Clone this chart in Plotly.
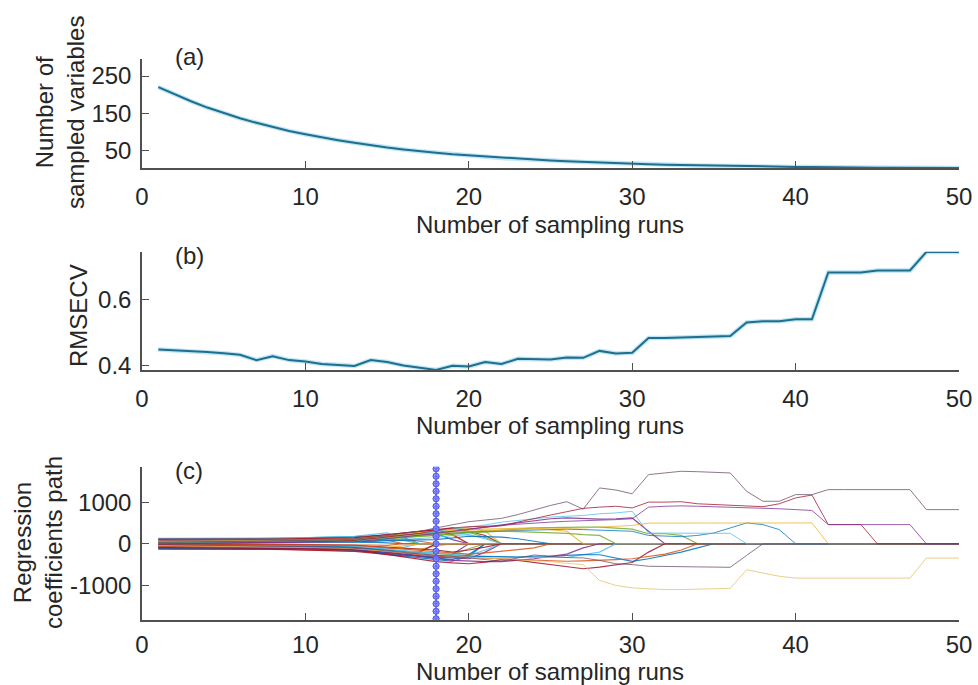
import plotly.graph_objects as go

# ---------------- data ----------------
runs = list(range(1, 51))

n_vars = [220, 200, 182, 165, 150, 136, 124, 112, 102, 93, 84, 77, 70, 63, 57, 52, 47, 43, 39, 36,
          32, 29, 27, 24, 22, 20, 18, 17, 15, 14, 12, 11, 10, 9, 8, 8, 7, 6, 6, 5,
          5, 4, 4, 3, 3, 3, 3, 2, 2, 2]

rmsecv = [0.448, 0.446, 0.444, 0.441, 0.437, 0.432, 0.416, 0.428, 0.416, 0.412,
          0.404, 0.402, 0.398, 0.416, 0.410, 0.400, 0.394, 0.386, 0.399, 0.397,
          0.410, 0.404, 0.420, 0.420, 0.418, 0.424, 0.423, 0.444, 0.436, 0.438,
          0.483, 0.483, 0.484, 0.486, 0.488, 0.489, 0.530, 0.534, 0.534, 0.540,
          0.540, 0.682, 0.682, 0.682, 0.688, 0.688, 0.688, 0.744, 0.744, 0.744]

# regression coefficient paths (values until elimination; afterwards the coefficient is 0)
band_paths = [
    [120, 118, 116, 115, 118, 122, 126, 130, 134, 140, 150, 160, 170, 190, 210, 150, 0],
    [-120, -118, -117, -116, -118, -121, -125, -130, -135, -140, -148, -156, -170, -200, -230, -260, -180, 0],
    [80, 82, 84, 86, 88, 92, 96, 100, 104, 108, 114, 120, 130, 160, 200, 240, 280, 300, 200, 0],
    [-80, -82, -84, -86, -90, -94, -98, -102, -108, -114, -120, -130, -150, -180, -220, -260, -300, -330, -250, 0],
    [40, 42, 44, 46, 48, 50, 52, 55, 58, 62, 66, 70, 80, 100, 120, 80, 0],
    [-40, -42, -45, -48, -50, -53, -56, -60, -64, -68, -72, -76, -84, -100, -120, -90, 0],
    [100, 98, 96, 95, 96, 98, 100, 104, 108, 112, 118, 124, 136, 170, 210, 250, 290, 340, 380, 300, 200, 0],
    [-100, -98, -97, -96, -98, -100, -104, -108, -112, -118, -124, -132, -150, -190, -240, -290, -340, -380, -420, -300, 0],
    [20, 22, 24, 26, 28, 30, 32, 34, 37, 40, 44, 48, 55, 70, 90, 110, 60, 0],
    [-20, -22, -24, -26, -28, -30, -32, -34, -37, -40, -44, -48, -55, -70, -90, -110, -130, -60, 0],
    [60, 60, 61, 62, 64, 66, 68, 71, 74, 78, 82, 86, 96, 120, 150, 180, 210, 240, 100, 0],
    [-60, -61, -62, -63, -65, -67, -69, -72, -75, -79, -83, -88, -98, -120, -150, -180, -210, -240, -260, -120, 0],
    [130, 128, 126, 124, 124, 126, 130, 134, 138, 144, 152, 162, 180, 220, 260, 120, 0],
    [-130, -128, -126, -124, -124, -126, -130, -134, -140, -148, -156, -166, -185, -220, -260, -300, -200, 0],
    [0, 2, 4, 6, 8, 10, 12, 14, 16, 18, 20, 24, 30, 40, 20, 0],
    [10, 8, 6, 4, 2, 0, -2, -4, -6, -8, -10, -14, -20, -30, -40, 0],
    [90, 90, 91, 92, 94, 96, 99, 102, 106, 110, 115, 122, 136, 166, 200, 236, 270, 310, 350, 380, 300, 0],
    [-90, -90, -91, -92, -94, -96, -99, -103, -107, -112, -118, -125, -140, -172, -210, -250, -290, -320, -340, -360, -200, 0],
    [50, 52, 54, 56, 58, 60, 62, 65, 68, 72, 76, 80, 90, 112, 140, 170, 200, 230, 260, 280, 150, 0],
    [-50, -52, -54, -56, -58, -60, -62, -65, -68, -72, -76, -80, -90, -112, -140, -170, -200, -230, -260, -280, -150, 0],
    [110, 108, 106, 104, 104, 106, 108, 112, 116, 120, 126, 134, 148, 180, 220, 260, 300, 340, 220, 0],
    [-110, -108, -106, -104, -104, -106, -108, -112, -116, -120, -126, -134, -148, -180, -220, -260, -300, -340, -380, -260, 0],
    [30, 30, 31, 32, 33, 34, 36, 38, 40, 42, 45, 48, 54, 68, 86, 0],
    [-30, -30, -31, -32, -33, -34, -36, -38, -40, -42, -45, -48, -54, -68, -86, -50, 0],
]

mid_paths = [
    [70, 72, 74, 76, 78, 80, 84, 88, 92, 96, 102, 108, 120, 150, 180, 210, 230, 250, 300, 350, 400, 450, 500, 560, 600, 620, 600, 590, 600, 620, 300, 0],
    [-5, 0, 5, 10, 15, 20, 25, 30, 35, 40, 48, 56, 70, 100, 130, 160, 180, 200, 240, 280, 300, 320, 350, 380, 390, 400, 400, 400, 380, 350, 240, 240, 200, 0],
    [15, 16, 17, 18, 19, 20, 22, 24, 26, 28, 30, 34, 40, 60, 80, 100, 130, 150, 200, 220, 120, 0],
    [-15, -16, -17, -18, -19, -20, -22, -24, -26, -28, -30, -34, -40, -60, -80, -100, -130, -150, -200, -150, -80, 0],
    [25, 26, 27, 28, 29, 30, 32, 34, 36, 38, 40, 44, 50, 65, 80, 90, 95, 100, 140, 180, 170, 160, 120, 60, 0],
    [-25, -26, -27, -28, -29, -30, -32, -34, -36, -38, -40, -44, -50, -70, -100, -130, -160, -200, -230, -250, -220, -180, -140, -100, 0],
    [45, 46, 47, 48, 50, 52, 55, 58, 62, 66, 70, 76, 88, 120, 160, 200, 250, 300, 310, 330, 350, 360, 370, 380, 340, 300, 0],
    [-70, -72, -74, -76, -78, -80, -84, -88, -92, -96, -102, -108, -120, -160, -210, -260, -300, -350, -400, -420, -430, -430, -400, -360, -300, -250, -100, 0],
    [35, 36, 37, 38, 39, 40, 42, 44, 46, 48, 52, 56, 64, 90, 120, 150, 180, 200, 230, 260, 280, 300, 290, 280, 270, 250, 220, 200, 0],
    [-35, -36, -37, -38, -39, -40, -42, -44, -46, -48, -52, -56, -64, -90, -130, -170, -220, -280, -290, -300, -310, -320, -325, -330, -330, -330, -260, -200, 0],
    [-95, -96, -97, -98, -100, -102, -106, -110, -115, -120, -128, -136, -150, -200, -260, -320, -380, -430, -460, -480, -440, -380, -400, -450, -500, -560, -600, -560, -500, -450, -200, 0],
    [-45, -46, -47, -48, -50, -52, -55, -58, -62, -66, -70, -76, -88, -120, -160, -200, -240, -270, -290, -300, -300, -310, -320, -300, -300, -280, -260, -264, -350, -424, -360, -280, -200, -100, 0],
    [-65, -66, -67, -68, -70, -72, -75, -78, -82, -86, -92, -98, -110, -150, -190, -230, -260, -300, -320, -330, -340, -360, -380, -390, -400, -420, -410, -400, -380, -360, -300, -250, -150, 0],
]

long_paths = [
    [55, 56, 57, 58, 60, 62, 65, 68, 72, 76, 82, 88, 100, 130, 170, 210, 240, 270, 280, 290,
     300, 310, 320, 330, 340, 350, 340, 330, 320, 300, 200, 180, 170, 200, 260, 380, 500, 460, 340, 0],
    [5, 8, 11, 14, 17, 20, 24, 28, 32, 36, 42, 48, 60, 90, 130, 180, 230, 300, 350, 400,
     450, 520, 560, 600, 640, 660, 680, 720, 740, 780, 256, 256, 250, 250, 250, 250, 0],
    [60, 62, 64, 66, 68, 70, 72, 76, 80, 84, 90, 96, 110, 140, 170, 200, 230, 260, 280, 300,
     310, 320, 330, 340, 350, 360, 380, 400, 420, 440, 496, 496, 496, 500, 500, 500, 500, 500, 500, 500, 500, 0],
    [-40, -44, -48, -52, -56, -60, -65, -70, -76, -82, -90, -100, -120, -150, -180, -210, -240, -270, -300, -320,
     -340, -360, -380, -400, -430, -470, -500, -880, -1000, -1060, -1080, -1100, -1100, -1090, -1080, -1070, -624, -700, -780, -824,
     -824, -824, -824, -824, -824, -824, -824, -344, -344, -344],
    [-20, -24, -28, -32, -36, -40, -45, -52, -60, -68, -76, -85, -100, -130, -170, -210, -250, -280, -300, -340,
     -380, -420, -340, -270, -300, -330, -340, -400, -480, -500, -540, -550, -550, -555, -560, -565, -280, 0],
    [-10, -5, 0, 5, 10, 15, 20, 28, 36, 45, 55, 65, 80, 120, 160, 200, 250, 320, 380, 410,
     420, 430, 520, 610, 690, 770, 850, 880, 900, 860, 1000, 1000, 1010, 960, 940, 920, 900, 890, 960, 1100,
     1170, 460, 460, 460, 0],
    [0, 3, 6, 9, 12, 15, 18, 22, 26, 30, 36, 42, 50, 80, 120, 160, 200, 250, 300, 350,
     400, 440, 470, 500, 520, 540, 550, 560, 580, 600, 880, 900, 910, 900, 890, 880, 870, 860, 840, 820,
     800, 460, 460, 460, 460, 460, 460, 0],
    [30, 34, 38, 42, 47, 52, 58, 64, 72, 80, 88, 96, 110, 150, 200, 250, 300, 380, 460, 530,
     570, 610, 700, 810, 920, 1010, 830, 1340, 1290, 1200, 1660, 1700, 1740, 1730, 1720, 1700, 1260, 1020, 1020, 1180,
     1180, 1300, 1300, 1300, 1300, 1300, 1300, 820, 820, 820],
]

opt_run = 18
opt_marker_levels = [-1800, -1620, -1440, -1260, -1080, -900, -720, -540, -360, -180, 0,
                     180, 360, 540, 720, 900, 1080, 1260, 1440, 1620, 1800]

c_ticks = [-1000, 0, 1000]
c_ticktext = ["-1000", "0", "1000"]

# ---------------- style ----------------
W, H = 978, 685
FONT = "Liberation Sans, Arial, Helvetica, sans-serif"
TXT = "#262626"
AX = "#505050"
LINE = "#1f6e8e"
matlab = ["#0072BD", "#D95319", "#EDB120", "#7E2F8E", "#77AC30", "#4DBEEE", "#A2142F"]
long_colors = ["#0072BD", "#4DBEEE", "#EDB120", "#E3C26A", "#6b4f6b", "#A2142F", "#7E2F8E", "#6b4f6b"]

x_left, x_right = 142, 959
def xp(px):
    return px / W
def yp(px):
    return 1 - px / H

panels = {  # pixel top, bottom
    "a": (59, 168),
    "b": (251.7, 370),
    "c": (466.7, 620),
}

fig = go.Figure()

def pad(p):
    return p + [0] * (len(runs) - len(p))

# (a)
fig.add_trace(go.Scatter(x=runs, y=n_vars, mode="lines", line=dict(color="rgba(110,200,235,0.45)", width=4.5),
                         xaxis="x", yaxis="y", hoverinfo="skip"))
fig.add_trace(go.Scatter(x=runs, y=n_vars, mode="lines", line=dict(color=LINE, width=2), xaxis="x", yaxis="y"))
# (b)
fig.add_trace(go.Scatter(x=runs, y=rmsecv, mode="lines", line=dict(color="rgba(110,200,235,0.45)", width=4.5),
                         xaxis="x2", yaxis="y2", hoverinfo="skip"))
fig.add_trace(go.Scatter(x=runs, y=rmsecv, mode="lines", line=dict(color=LINE, width=2), xaxis="x2", yaxis="y2"))
# (c)
k = 0
for p in band_paths + mid_paths:
    fig.add_trace(go.Scatter(x=runs, y=pad(p), mode="lines",
                             line=dict(color=matlab[k % 7], width=1.2), opacity=0.85,
                             xaxis="x3", yaxis="y3"))
    k += 1
for p, c in zip(long_paths, long_colors):
    fig.add_trace(go.Scatter(x=runs, y=pad(p), mode="lines",
                             line=dict(color=c, width=0.9), opacity=0.85,
                             xaxis="x3", yaxis="y3"))
fig.add_trace(go.Scatter(x=[opt_run] * len(opt_marker_levels), y=opt_marker_levels, mode="lines+markers",
                         line=dict(color="#2a2ad0", width=1.2),
                         marker=dict(symbol="circle", size=6, color="rgba(175,175,255,0.7)",
                                     line=dict(color="#4a4ae0", width=1)),
                         xaxis="x3", yaxis="y3"))
fig.add_trace(go.Scatter(x=[opt_run] * len(opt_marker_levels), y=opt_marker_levels, mode="markers",
                         marker=dict(symbol="asterisk-open", size=6, line=dict(color="#101080", width=1)),
                         xaxis="x3", yaxis="y3"))

xcommon = dict(range=[0, 50], tickvals=[0, 10, 20, 30, 40, 50], ticks="inside", ticklen=7, tickwidth=1.2,
               tickcolor=AX, showline=True, linecolor=AX, linewidth=1.5, showgrid=False, zeroline=False,
               tickfont=dict(family=FONT, size=24, color=TXT),
               domain=[xp(x_left), xp(x_right)], automargin=False)
ycommon = dict(ticks="inside", ticklen=7, tickwidth=1.2, tickcolor=AX, showline=True, linecolor=AX,
               linewidth=1.5, showgrid=False, zeroline=False,
               tickfont=dict(family=FONT, size=24, color=TXT), ticklabelstandoff=4, automargin=False)

fig.update_layout(
    width=W, height=H, margin=dict(l=0, r=0, t=0, b=0),
    paper_bgcolor="white", plot_bgcolor="white", showlegend=False,
    xaxis=dict(**xcommon, anchor="y", ticklabelstandoff=6),
    yaxis=dict(**ycommon, anchor="x", range=[2, 296], tickvals=[50, 150, 250],
               domain=[yp(panels["a"][1]), yp(panels["a"][0])]),
    xaxis2=dict(**xcommon, anchor="y2", ticklabelstandoff=6),
    yaxis2=dict(**ycommon, anchor="x2", range=[0.386, 0.745], tickvals=[0.4, 0.6], ticktext=["0.4", "0.6"],
                domain=[yp(panels["b"][1]), yp(panels["b"][0])]),
    xaxis3=dict(**xcommon, anchor="y3", ticklabelstandoff=2),
    yaxis3=dict(**ycommon, anchor="x3", range=[-1830, 1850], tickvals=c_ticks, ticktext=c_ticktext,
                domain=[yp(panels["c"][1]), yp(panels["c"][0])]),
)

ann = []
def add_text(text, x, y, angle=0):
    ann.append(dict(text=text, x=xp(x), y=yp(y), xref="paper", yref="paper", showarrow=False,
                    textangle=angle, xanchor="center", yanchor="middle",
                    font=dict(family=FONT, size=24, color=TXT)))

add_text("(a)", 189, 57)
add_text("(b)", 189, 255)
add_text("(c)", 189, 470)
add_text("Number of<br>sampled variables", 60, 113, -90)
add_text("RMSECV", 79, 316, -90)
add_text("Regression<br>coefficients path", 38, 543, -90)
for ycen in (224, 426, 671):
    add_text("Number of sampling runs", 550, ycen)
fig.update_layout(annotations=ann)

fig.write_html("out.html", config={"displayModeBar": False},
               post_script="document.body.style.margin='0px';document.body.style.overflow='hidden';")
